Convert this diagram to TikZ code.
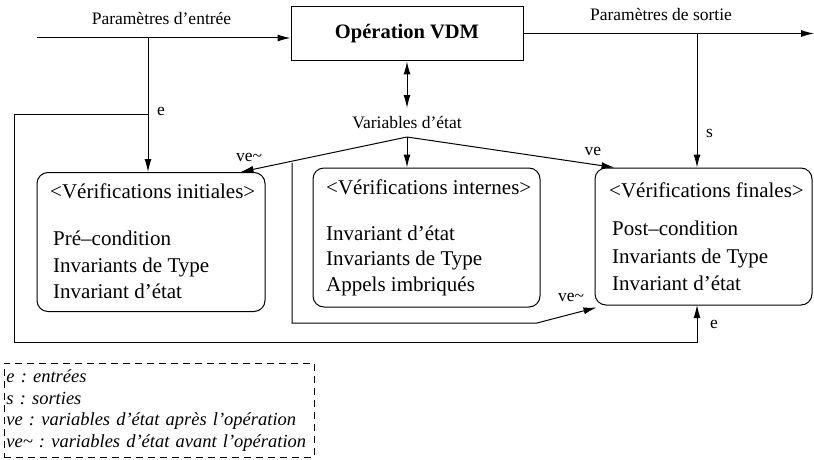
\documentclass[tikz,border=0pt]{standalone}
\usepackage{fontspec}
\setmainfont{Liberation Serif}
\usetikzlibrary{arrows.meta,calc}

\tikzset{
  fl/.style={line width=1pt,arrows={-Latex[length=13pt,width=7pt]}},
  dfl/.style={line width=1pt,arrows={Latex[length=13pt,width=7pt]-Latex[length=13pt,width=7pt]}},
  ln/.style={line width=1pt},
  opbox/.style={draw,line width=1pt,minimum width=232,minimum height=54,
    font=\fontsize{20.5}{24}\selectfont\bfseries},
  verif/.style={draw,line width=1pt,rounded corners=11pt},
  vtxt/.style={anchor=base west,inner sep=0pt,font=\fontsize{21}{25}\selectfont},
  lbl/.style={inner sep=0pt,font=\fontsize{17.5}{20}\selectfont},
  legend/.style={draw,line width=0.8pt,dash pattern=on 7pt off 5pt,align=left,
    anchor=north west,inner xsep=2pt,inner ysep=3pt,text width=306pt,minimum height=94pt,
    font=\fontsize{18.5}{21.7}\selectfont\itshape\frenchspacing}
}

\begin{document}
\begin{tikzpicture}[x=1pt,y=-1pt]
	\useasboundingbox (0,0) rectangle (814,460);

	% operation
	\node[opbox] (op) at (407,34) {Opération VDM};

	% the three checks
	\node[verif,minimum width=228,minimum height=139] (ini) at (151,242) {};
	\node[verif,minimum width=227,minimum height=139] (int) at (426.5,237.5) {};
	\node[verif,minimum width=217,minimum height=137] (fin) at (703.5,236.5) {};

	\node[vtxt] (ini0) at (50,198) {<Vérifications initiales>};
	\node[vtxt] (ini1) at (53,245) {Pré--condition};
	\node[vtxt] (ini2) at (53,272) {Invariants de Type};
	\node[vtxt] (ini3) at (53,298) {Invariant d'état};

	\node[vtxt] (int0) at (326,194) {<Vérifications internes>};
	\node[vtxt] (int1) at (326,240) {Invariant d'état};
	\node[vtxt] (int2) at (326,265) {Invariants de Type};
	\node[vtxt] (int3) at (326,291) {Appels imbriqués};

	\node[vtxt] (fin0) at (609,197) {<Vérifications finales>};
	\node[vtxt] (fin1) at (612,235) {Post--condition};
	\node[vtxt] (fin2) at (612,263) {Invariants de Type};
	\node[vtxt] (fin3) at (612,290) {Invariant d'état};

	% inputs
	\coordinate (in) at (37,38);
	\coordinate (ej) at (148,38);
	\coordinate (ek) at (148,114);
	\draw[fl] (in) -- (in -| op.west);
	\draw[fl] (ej) -- (ej |- ini.north);
	\draw[fl] (ek) -- (14,114) -- (14,342) -- (697,342) -- (697,305);
	\node[lbl,anchor=base] (pin) at (161.5,25) {Paramètres d'entrée};
	\node[lbl,anchor=base west] (le1) at (157,115) {e};
	\node[lbl,anchor=base west] (le2) at (710,328) {e};

	% outputs
	\coordinate (out) at (814,33.5);
	\coordinate (sj) at (697,33.5);
	\draw[fl] (op.east |- out) -- (out);
	\draw[fl] (sj) -- (sj |- fin.north);
	\node[lbl,anchor=base] (pout) at (661,21) {Paramètres de sortie};
	\node[lbl,anchor=base west] (ls) at (706,137) {s};

	% state variables
	\coordinate (vtop) at (407,108);
	\coordinate (vbot) at (407,137);
	\draw[dfl] (op.south) -- (vtop);
	\node[lbl] (var) at (407,123) {Variables d'état};
	\draw[fl] (vbot) -- ([xshift=-25pt]ini.north east);
	\draw[fl] (vbot) -- (vbot |- int.north);
	\draw[fl] (vbot) -- ([xshift=20pt]fin.north west);
	\node[lbl,anchor=base] (lv1) at (249,161) {ve\textasciitilde};
	\node[lbl,anchor=base] (lv2) at (593,155) {ve};

	\coordinate (vl) at (292,163);
	\draw[fl] (vl) -- (292,323) -- (537,323) -- ([xshift=2pt,yshift=-2pt]fin.south west);
	\node[lbl,anchor=base] (lv3) at (571,301) {ve\textasciitilde};

	% legend
	\node[legend] (leg) at (4,363) {e : entrées\\s : sorties\\ve : variables d'état après l'opération\\ve\textasciitilde{} : variables d'état avant l'opération};
\end{tikzpicture}
\end{document}
